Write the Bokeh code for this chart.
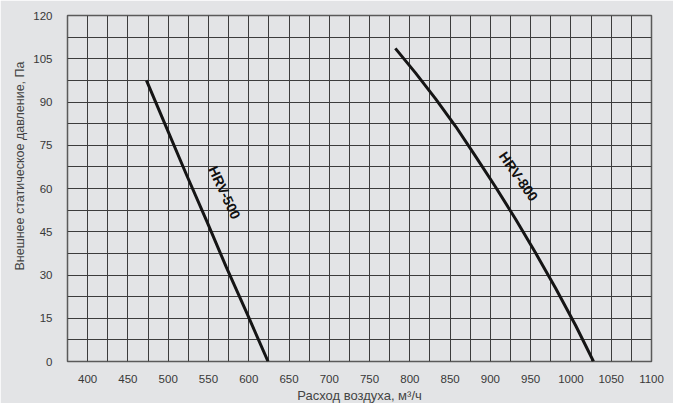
from bokeh.plotting import figure
from bokeh.models import FixedTicker, Label, Range1d, Title
from bokeh.embed import file_html
from bokeh.resources import INLINE

# Data
hrv500_x = [473, 498, 523, 548, 572, 597, 624]
hrv500_y = [97.5, 81.0, 64.6, 48.6, 32.8, 17.2, 0.0]
hrv800_x = [782, 807, 832, 857, 881, 906, 931, 956, 981, 1006, 1028]
hrv800_y = [108.6, 100.1, 91.1, 81.5, 71.4, 60.7, 49.5, 37.7, 25.4, 12.4, 0.0]

x_ticks = [400, 450, 500, 550, 600, 650, 700, 750, 800, 850, 900, 950, 1000, 1050, 1100]
y_ticks = [0, 15, 30, 45, 60, 75, 90, 105, 120]
x_grid = [375 + 25 * i for i in range(30)]
y_grid = [7.5 * i for i in range(17)]

y_title = "Внешнее статическое давление, Па"
x_title = "Расход воздуха, м³/ч"

BG = "#e3e4e6"
FONT = "Liberation Sans"

p = figure(frame_width=584, frame_height=346,
           x_range=Range1d(375, 1100), y_range=Range1d(0, 120),
           output_backend="svg", toolbar_location=None,
           min_border_left=67, min_border_right=22,
           min_border_top=15, min_border_bottom=42,
           background_fill_color=BG, border_fill_color=BG)

p.outline_line_color = "#5a5a5a"
p.outline_line_width = 1.5

for ax in (p.xaxis[0], p.yaxis[0]):
    ax.axis_line_color = None
    ax.major_tick_line_color = None
    ax.minor_tick_line_color = None
    ax.major_label_text_font = FONT
    ax.major_label_text_font_size = "11.5px"
    ax.major_label_text_color = "#383838"

p.xaxis.ticker = FixedTicker(ticks=x_ticks)
p.yaxis.ticker = FixedTicker(ticks=y_ticks)
p.xaxis.major_label_standoff = 7
p.yaxis.major_label_standoff = 9

p.xgrid.ticker = FixedTicker(ticks=x_grid)
p.ygrid.ticker = FixedTicker(ticks=y_grid)
for g in (p.xgrid[0], p.ygrid[0]):
    g.grid_line_color = "#3c3c3c"
    g.grid_line_width = 1

p.line(hrv500_x, hrv500_y, line_color="#151515", line_width=3)
p.line(hrv800_x, hrv800_y, line_color="#151515", line_width=3)

p.add_layout(Label(x=570, y=58.6, text="HRV-500", angle=-65, angle_units="deg",
                   text_font=FONT, text_font_size="14px", text_font_style="bold",
                   text_align="center", text_baseline="middle", text_color="#111111"))
p.add_layout(Label(x=935, y=64.2, text="HRV-800", angle=-55, angle_units="deg",
                   text_font=FONT, text_font_size="14px", text_font_style="bold",
                   text_align="center", text_baseline="middle", text_color="#111111"))

# Axis titles
yt = Title(text=y_title, align="left", offset=91, standoff=8,
           text_font=FONT, text_font_size="12.5px", text_font_style="normal",
           text_color="#444444")
p.add_layout(yt, "left")
xt = Title(text=x_title, align="center", standoff=0,
           text_font=FONT, text_font_size="13px", text_font_style="normal",
           text_color="#444444")
p.add_layout(xt, "below")

open("out.html", "w").write(file_html(p, INLINE))
